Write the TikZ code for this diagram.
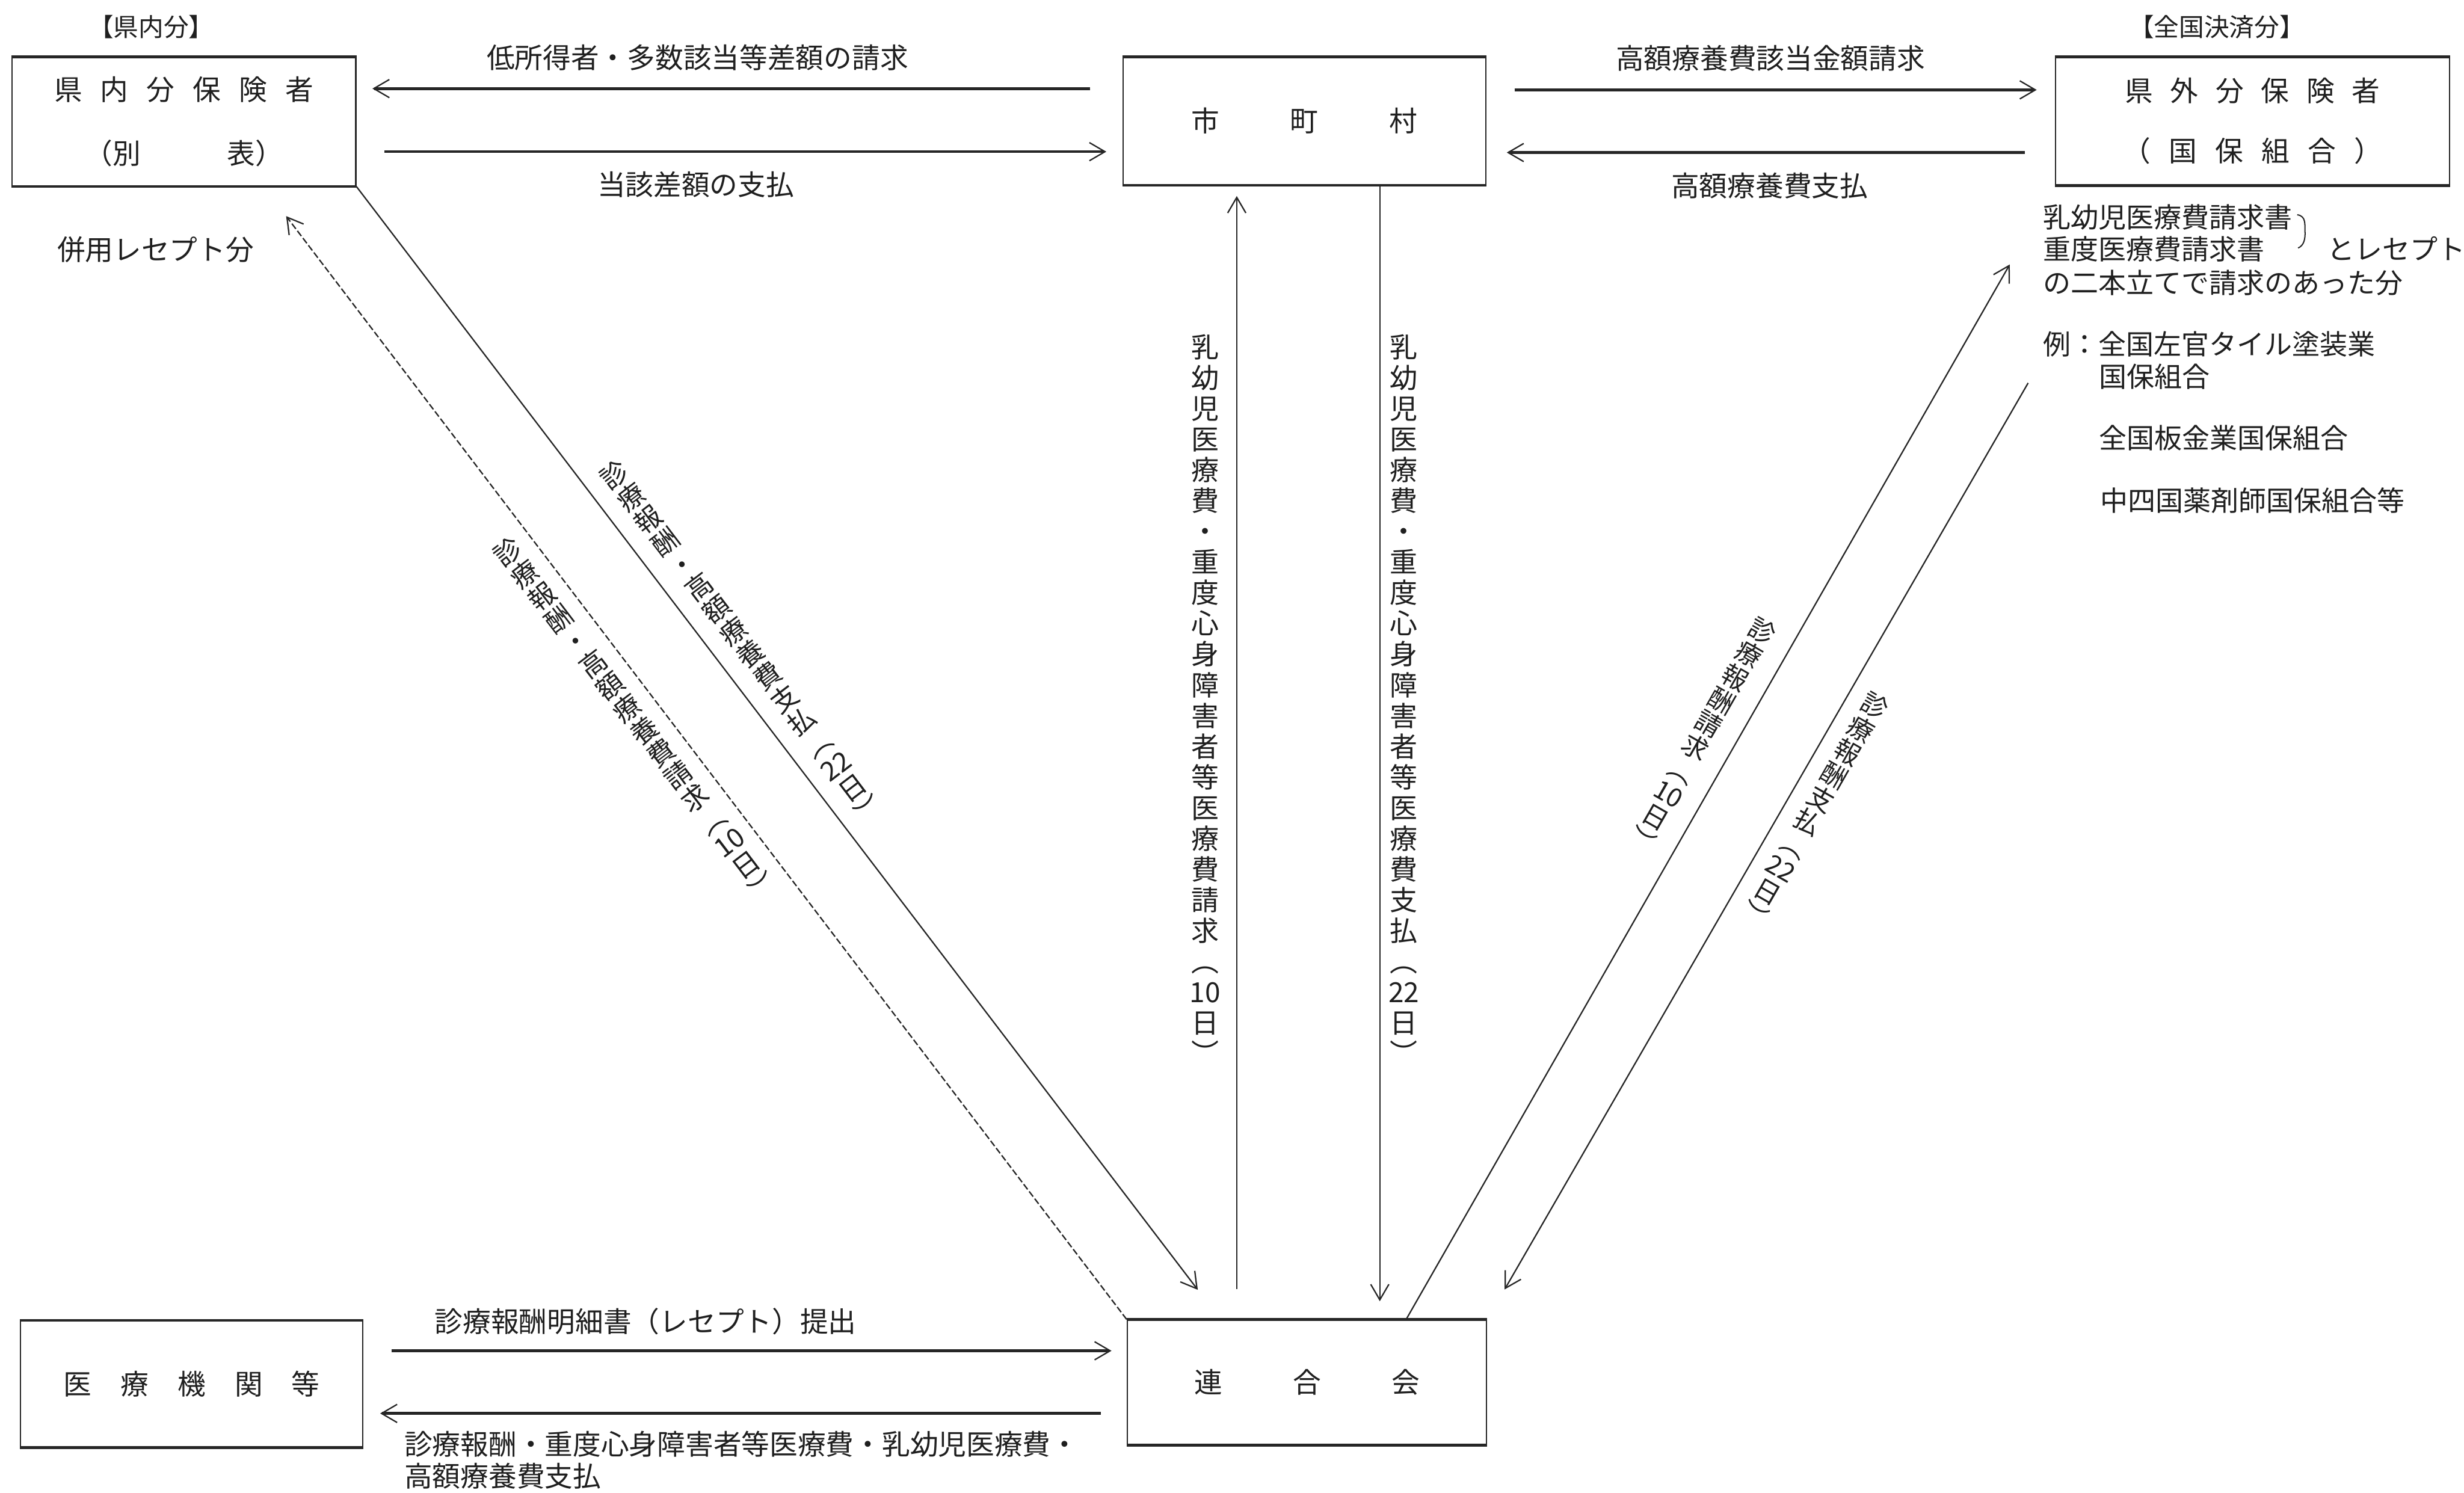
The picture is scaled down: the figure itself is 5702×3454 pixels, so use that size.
\documentclass[tikz,border=0pt]{standalone}
\usepackage{fontspec}
\setmainfont{Noto Sans CJK JP}
\usetikzlibrary{arrows.meta}
\newcommand{\jfs}[2]{\fontsize{#1}{#2}\selectfont}
\begin{document}
\begin{tikzpicture}[x=0.01cm,y=-0.01cm,
  every node/.style={text=black!88},
  box/.style={draw=black!85, line width=0.9pt, inner sep=0pt, align=center, font=\jfs{0.65cm}{1.48cm}},
  thickedge/.style={draw=black!85, line width=1.8pt},
  myarrow/.style={-{Straight Barb[length=0.36cm,width=0.42cm,line width=0.9pt]}},
  harr/.style={draw=black!85, line width=1.8pt, myarrow},
  darr/.style={draw=black!85, line width=0.9pt, myarrow},
  txt/.style={inner sep=0pt, font=\jfs{0.65cm}{0.75cm}},
  note/.style={inner sep=0pt, anchor=west, font=\jfs{0.64cm}{0.74cm}},
  vtxt/.style={inner sep=0pt, align=center, font=\jfs{0.64cm}{0.71cm}},
  ltxt/.style={inner sep=0pt, align=center, font=\jfs{0.62cm}{0.65cm}},
  rtxt/.style={inner sep=0pt, align=center, font=\jfs{0.6cm}{0.62cm}},
]
\path[use as bounding box, fill=white] (0,0) rectangle (5702,3454);

% ---------- boxes ----------
\node[box, minimum width=7.95cm, minimum height=2.97cm] (A) at (425.5,281.5)
  {県\hspace{0.42cm}内\hspace{0.42cm}分\hspace{0.42cm}保\hspace{0.42cm}険\hspace{0.42cm}者\\（別\hspace{2cm}表）};
\node[box, minimum width=8.39cm, minimum height=2.94cm] (B) at (3018.5,280)
  {市\hspace{1.64cm}町\hspace{1.64cm}村};
\node[box, minimum width=9.11cm, minimum height=2.95cm, font=\jfs{0.65cm}{1.39cm}] (C) at (5212.5,280.5)
  {県\hspace{0.40cm}外\hspace{0.40cm}分\hspace{0.40cm}保\hspace{0.40cm}険\hspace{0.40cm}者\\（\hspace{0.42cm}国\hspace{0.42cm}保\hspace{0.42cm}組\hspace{0.42cm}合\hspace{0.42cm}）};
\node[box, minimum width=7.91cm, minimum height=2.91cm] (D) at (443.5,3202.5)
  {医\hspace{0.67cm}療\hspace{0.67cm}機\hspace{0.67cm}関\hspace{0.67cm}等};
\node[box, minimum width=8.31cm, minimum height=2.88cm] (E) at (3024.5,3199)
  {連\hspace{1.63cm}合\hspace{1.63cm}会};

\foreach \n in {A,B,C,D,E}{
  \draw[thickedge] (\n.north west) -- (\n.north east);
  \draw[thickedge] (\n.south west) -- (\n.south east);
}

% ---------- group labels ----------
\node[txt, font=\jfs{0.58cm}{0.7cm}] (gin) at (350,62) {【県内分】};
\node[txt, font=\jfs{0.58cm}{0.7cm}] (gout) at (5130,62) {【全国決済分】};

% ---------- horizontal connectors ----------
\coordinate (r1) at (0,205);
\coordinate (r2) at (0,351);
\coordinate (r3) at (0,208);
\coordinate (r4) at (0,353);
\coordinate (r5) at (0,3126);
\coordinate (r6) at (0,3271);

\draw[harr, shorten <=0.74cm, shorten >=0.37cm] (B.west |- r1) -- (A.east |- r1);
\draw[harr, shorten <=0.65cm, shorten >=0.37cm] (A.east |- r2) -- (B.west |- r2);
\draw[harr, shorten <=0.65cm, shorten >=0.42cm] (B.east |- r3) -- (C.west |- r3);
\draw[harr, shorten <=0.70cm, shorten >=0.47cm] (C.west |- r4) -- (B.east |- r4);
\draw[harr, shorten <=0.65cm, shorten >=0.35cm] (D.east |- r5) -- (E.west |- r5);
\draw[harr, shorten <=0.60cm, shorten >=0.39cm] (E.west |- r6) -- (D.east |- r6);

\node[txt] (t1) at (1614,133) {低所得者・多数該当等差額の請求};
\node[txt] (t2) at (1610,427) {当該差額の支払};
\node[txt] (t3) at (4097,135) {高額療養費該当金額請求};
\node[txt] (t4) at (4095,430) {高額療養費支払};
\node[txt] (t5) at (1494,3058) {診療報酬明細書（レセプト）提出};
\node[txt, anchor=west] (t6) at (935,3342) {診療報酬・重度心身障害者等医療費・乳幼児医療費・};
\node[txt, anchor=west] (t7) at (935,3416) {高額療養費支払};
\node[txt] (t8) at (360,578) {併用レセプト分};

% ---------- vertical connectors ----------
\coordinate (vx1) at (2862,0);
\coordinate (vx2) at (3193,0);
\draw[darr, shorten <=0.70cm, shorten >=0.25cm] (E.north -| vx1) -- (B.south -| vx1);
\draw[darr, shorten >=0.42cm] (B.south -| vx2) -- (E.north -| vx2);

\node[vtxt] (v1) at (2789,1618)
  {乳\\幼\\児\\医\\療\\費\\・\\重\\度\\心\\身\\障\\害\\者\\等\\医\\療\\費\\請\\求\\︵\\10\\日\\︶};
\node[vtxt] (v2) at (3249,1618)
  {乳\\幼\\児\\医\\療\\費\\・\\重\\度\\心\\身\\障\\害\\者\\等\\医\\療\\費\\支\\払\\︵\\22\\日\\︶};

% ---------- diagonal connectors (left) ----------
\coordinate (dA) at (2824,0);
\coordinate (dB) at (610,0);
\draw[darr, shorten >=0.86cm] (A.south east) -- (E.north -| dA);
\draw[darr, dash pattern=on 0.15cm off 0.06cm, shorten >=0.86cm] (E.north west) -- (A.south -| dB);

\node[ltxt, rotate=37.3] (l1) at (1715,1485)
  {診\\療\\報\\酬\\・\\高\\額\\療\\養\\費\\支\\払\\︵\\22\\日\\︶};
\node[ltxt, rotate=37.3] (l2) at (1469,1663)
  {診\\療\\報\\酬\\・\\高\\額\\療\\養\\費\\請\\求\\︵\\10\\日\\︶};

% ---------- diagonal connectors (right) ----------
\coordinate (dc) at (3254,0);
\coordinate (dd) at (4957,0);
\draw[darr, shorten >=2.1cm] (E.north -| dc) -- (C.south west);
\draw[darr, shorten <=5.27cm, shorten >=0.8cm] (C.south -| dd) -- (E.north east);

\node[rtxt, rotate=-29.8] (q1) at (3940,1700)
  {診\\療\\報\\酬\\請\\求\\︵\\10\\日\\︶};
\node[rtxt, rotate=-29.8] (q2) at (4200,1873)
  {診\\療\\報\\酬\\支\\払\\︵\\22\\日\\︶};

% ---------- note on the right ----------
\node[note] (n1) at (4727,503) {乳幼児医療費請求書};
\node[note] (n2) at (4727,577) {重度医療費請求書};
\node[note] (n3) at (4727,654) {の二本立てで請求のあった分};
\node[note] (n4) at (5384,575) {とレセプト};
\draw[black!85, line width=0.8pt] (5316,497) .. controls (5338,500) and (5333,522) .. (5334,535)
  .. controls (5335,552) and (5332,568) .. (5318,574);
\node[note] (n5) at (4727,796) {例：全国左官タイル塗装業};
\node[note] (n6) at (4857,872) {国保組合};
\node[note] (n7) at (4857,1014) {全国板金業国保組合};
\node[note] (n8) at (4860,1158) {中四国薬剤師国保組合等};
\end{tikzpicture}
\end{document}
